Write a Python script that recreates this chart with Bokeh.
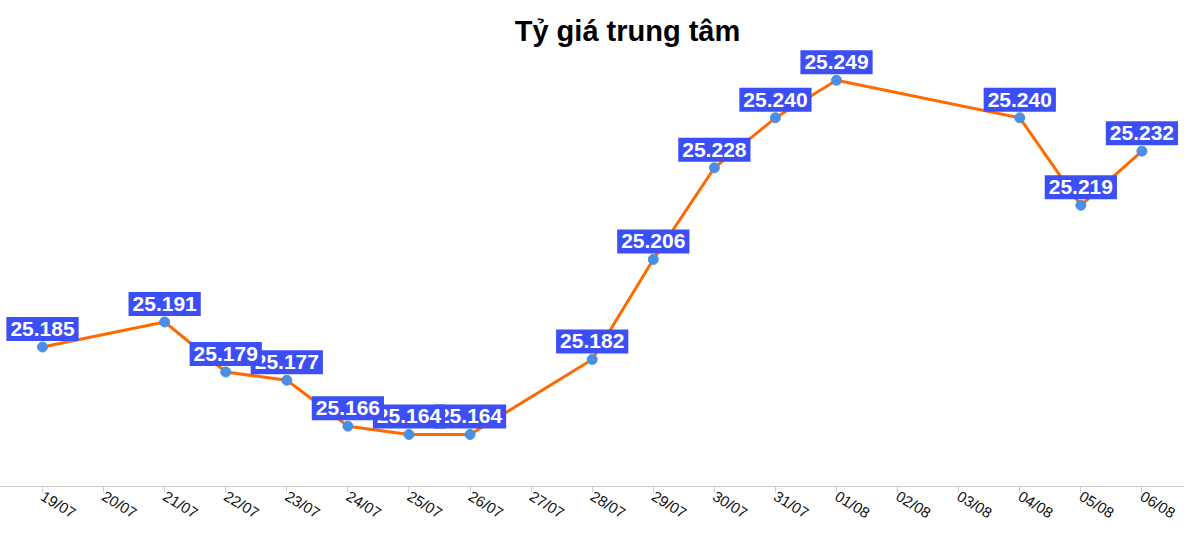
from bokeh.plotting import figure
from bokeh.models import ColumnDataSource, Label, FixedTicker, Range1d
from bokeh.core.properties import value
from bokeh.embed import file_html
from bokeh.resources import INLINE

title_text = "Tỷ giá trung tâm"

tick_labels = ["18/07", "19/07", "20/07", "21/07", "22/07", "23/07", "24/07",
               "25/07", "26/07", "27/07", "28/07", "29/07", "30/07", "31/07",
               "01/08", "02/08", "03/08", "04/08", "05/08", "06/08"]

point_dates = ["19/07", "21/07", "22/07", "23/07", "24/07", "25/07", "26/07",
               "28/07", "29/07", "30/07", "31/07", "01/08", "04/08", "05/08", "06/08"]

rates = [25.185, 25.191, 25.179, 25.177, 25.166, 25.164, 25.164,
         25.182, 25.206, 25.228, 25.240, 25.249, 25.240, 25.219, 25.232]

xs = [tick_labels.index(d) for d in point_dates]
texts = ["%.3f" % v for v in rates]

src = ColumnDataSource(dict(x=xs, y=rates, t=texts))
# labels drawn in reverse so earlier labels sit on top
rsrc = ColumnDataSource(dict(x=xs[::-1], y=rates[::-1], t=texts[::-1]))

p = figure(width=1184, height=532, output_backend="svg", toolbar_location=None,
           x_range=Range1d(0.3124, 19.697), y_range=Range1d(25.15152, 25.26815),
           y_axis_location=None, min_border_left=0, min_border_right=0,
           min_border_top=0, min_border_bottom=46)
p.outline_line_color = None
p.xgrid.visible = False
p.ygrid.visible = False
p.background_fill_color = "white"

p.line("x", "y", source=src, line_color="#ff6a00", line_width=3)
p.scatter("x", "y", source=src, size=10, fill_color="#4a8fe3", line_color="#4a8fe3")

p.text("x", "y", text="t", source=rsrc,
       text_font=value("Liberation Sans"), text_font_style="bold",
       text_font_size="21px", text_color="white",
       text_align="center", text_baseline="middle", y_offset=-18,
       background_fill_color="#3c4ef5", padding=(4, 5))

ax = p.xaxis[0]
ax.ticker = FixedTicker(ticks=list(range(len(tick_labels))))
ax.major_label_overrides = {i: s for i, s in enumerate(tick_labels)}
ax.major_label_orientation = -0.55
ax.major_label_text_font = "Liberation Sans"
ax.major_label_text_font_size = "15px"
ax.major_label_text_color = "#111111"
ax.major_label_standoff = 2
ax.axis_line_color = "#cccccc"
ax.major_tick_line_color = "#cccccc"
ax.major_tick_in = 0
ax.major_tick_out = 6
ax.minor_tick_line_color = None

title = Label(x=627, y=456, x_units="screen", y_units="screen", text=title_text,
              text_font="Liberation Sans", text_font_style="bold",
              text_font_size="29px", text_color="black",
              text_align="center", text_baseline="middle")
p.add_layout(title)

open("out.html", "w").write(file_html(p, INLINE))
